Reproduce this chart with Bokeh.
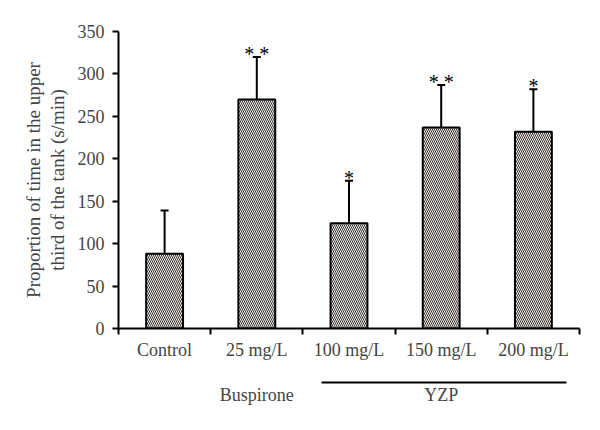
from bokeh.plotting import figure
from bokeh.models import (Range1d, FixedTicker, ColumnDataSource, Whisker, TeeHead,
                          LinearAxis)
from bokeh.core.properties import value
from bokeh.embed import file_html
from bokeh.resources import INLINE

# ---- data ----
categories = ["Control", "25 mg/L", "100 mg/L", "150 mg/L", "200 mg/L"]
means = [88, 270, 124, 237, 232]
errors = [51, 50, 50, 50, 50]
stars = ["", "* *", "*", "* *", "*"]
group_names = ["Buspirone", "YZP"]
group_members = [["25 mg/L"], ["100 mg/L", "150 mg/L", "200 mg/L"]]
y_ticks = [0, 50, 100, 150, 200, 250, 300, 350]
y_label = "Proportion of time in the upper\nthird of the tank (s/min)"

FONT = "Liberation Serif"

xs = [i + 0.5 for i in range(len(categories))]
src = ColumnDataSource(dict(
    x=xs, top=means, upper=[m + e for m, e in zip(means, errors)], stars=stars))

p = figure(width=584, height=414, output_backend="svg", toolbar_location=None,
           x_range=Range1d(0, len(categories)), y_range=Range1d(0, 350),
           min_border_left=118, min_border_right=5, min_border_top=31,
           min_border_bottom=86, outline_line_color=None)
p.grid.visible = False

# bars
p.vbar(x="x", top="top", bottom=0, width=0.4, source=src,
       fill_color="#f1ece9", line_color="black", line_width=2,
       hatch_pattern="\\", hatch_color="#3a3535", hatch_scale=4, hatch_weight=1)

# error bars (upper only)
p.add_layout(Whisker(source=src, base="x", lower="top", upper="upper",
                     dimension="height", line_width=2, line_color="black",
                     upper_head=TeeHead(size=8, line_width=2, line_color="black"),
                     lower_head=None))

# significance stars
p.text(x="x", y="upper", text="stars", source=src, text_align="center",
       text_baseline="alphabetic", y_offset=-3, text_font=value(FONT),
       text_font_size="20px", text_color="black")

# y axis
ya = p.yaxis[0]
ya.ticker = FixedTicker(ticks=y_ticks, minor_ticks=[])
ya.axis_label = y_label
ya.axis_label_text_font = FONT
ya.axis_label_text_font_size = "19px"
ya.axis_label_text_font_style = "normal"
ya.axis_label_text_line_height = 1.1
ya.axis_label_standoff = 7
ya.major_label_text_font = FONT
ya.major_label_text_font_size = "18px"
ya.major_label_standoff = 8
ya.major_tick_in = 0
ya.major_tick_out = 6
ya.major_tick_line_width = 2
ya.axis_line_width = 2
ya.bounds = (0, 350)

# x axis: labels at centers, tick marks at category boundaries
xa = p.xaxis[0]
xa.ticker = FixedTicker(ticks=xs, minor_ticks=list(range(len(categories) + 1)))
xa.major_label_overrides = {x: c for x, c in zip(xs, categories)}
xa.major_tick_line_color = None
xa.major_tick_in = 0
xa.major_tick_out = 6
xa.minor_tick_in = 0
xa.minor_tick_out = 6
xa.minor_tick_line_width = 2
xa.axis_line_width = 2
xa.major_label_text_font = FONT
xa.major_label_text_font_size = "18px"
xa.major_label_standoff = 5
xa.axis_label = " "
xa.axis_label_text_font_size = "10px"
xa.axis_label_standoff = 6

# group spans
g_centers, g_line = [], None
for name, members in zip(group_names, group_members):
    i0 = categories.index(members[0])
    i1 = categories.index(members[-1]) + 1
    g_centers.append((i0 + i1) / 2)
    if len(members) > 1:
        g_line = (i0 + 0.2, i1 - 0.14)

# line under the YZP doses (an axis line with bounds)
line_axis = LinearAxis(ticker=FixedTicker(ticks=[], minor_ticks=[]), bounds=g_line,
                       axis_line_width=2, axis_line_color="black",
                       major_tick_out=0, major_tick_in=0, major_label_standoff=0,
                       major_tick_line_color=None, minor_tick_line_color=None)
p.add_layout(line_axis, "below")

# group names row
group_axis = LinearAxis(ticker=FixedTicker(ticks=g_centers, minor_ticks=[]),
                        major_label_overrides={c: n for c, n in zip(g_centers, group_names)},
                        axis_line_color=None, major_tick_line_color=None,
                        minor_tick_line_color=None, major_tick_out=0, major_tick_in=0,
                        major_label_standoff=2, major_label_text_font=FONT,
                        major_label_text_font_size="18px")
p.add_layout(group_axis, "below")

open("out.html", "w").write(file_html(p, INLINE))
